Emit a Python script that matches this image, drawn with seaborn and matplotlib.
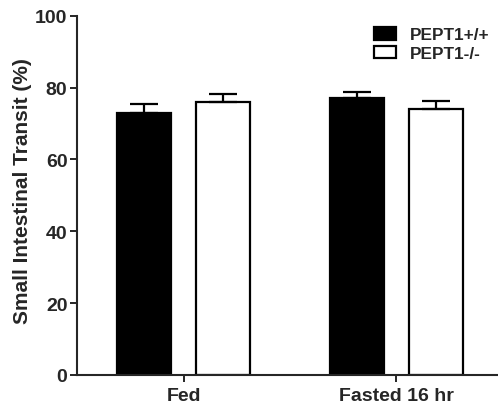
import numpy as np
import pandas as pd
import matplotlib
matplotlib.use('Agg')
import matplotlib.pyplot as plt
import seaborn as sns

# data
conditions = ['Fed', 'Fasted 16 hr']
genotypes = ['PEPT1+/+', 'PEPT1-/-']
wt_mean = [73.0, 77.0]
ko_mean = [76.0, 74.0]
wt_sem = [2.5, 1.7]
ko_sem = [2.2, 2.4]

df = pd.DataFrame({
    'condition': conditions * 2,
    'genotype': [genotypes[0]] * 2 + [genotypes[1]] * 2,
    'transit': wt_mean + ko_mean,
    'sem': wt_sem + ko_sem,
})

sns.set_style('ticks')
plt.rcParams['font.family'] = ['Liberation Sans', 'DejaVu Sans']
plt.rcParams['font.weight'] = 'bold'

fig = plt.figure(figsize=(4.98, 4.10), dpi=100)
ax = fig.add_axes([0.155, 0.083, 0.843, 0.876])

sns.barplot(data=df, x='condition', y='transit', hue='genotype',
            order=conditions, hue_order=genotypes,
            palette=['black', 'white'], width=0.744, gap=0.32,
            edgecolor='black', linewidth=1.6, errorbar=None, ax=ax)

# upper-only SEM error bars, placed on the drawn bars
for cont, g in zip(ax.containers, genotypes):
    sub = df[df['genotype'] == g].set_index('condition').loc[conditions]
    xs = [p.get_x() + p.get_width() / 2 for p in cont.patches]
    ax.errorbar(xs, sub['transit'], yerr=[np.zeros(len(xs)), sub['sem']],
                fmt='none', ecolor='black', elinewidth=1.6, capsize=10,
                capthick=1.6, zorder=1)

ax.set_ylim(0, 100)
ax.set_xlim(-0.502, 1.474)
ax.set_yticks([0, 20, 40, 60, 80, 100])
ax.set_xlabel('')
ax.set_ylabel('Small Intestinal Transit (%)', fontsize=15, fontweight='bold')
ax.yaxis.set_label_coords(-0.107, 0.515)
ax.tick_params(axis='both', labelsize=14, width=1.4, length=5)
ax.tick_params(axis='x', pad=4)
ax.tick_params(axis='y', pad=2)
for lab in ax.get_xticklabels() + ax.get_yticklabels():
    lab.set_fontweight('bold')
sns.despine(ax=ax)
for s in ['left', 'bottom']:
    ax.spines[s].set_linewidth(1.5)

leg = ax.legend(loc='upper left', bbox_to_anchor=(0.708, 0.969), frameon=False,
                fontsize=12.4, handlelength=1.28, handleheight=0.75,
                handletextpad=0.8, labelspacing=0.2, borderpad=0,
                borderaxespad=0)
for t in leg.get_texts():
    t.set_fontweight('bold')

fig.savefig('out.png', dpi=100)
